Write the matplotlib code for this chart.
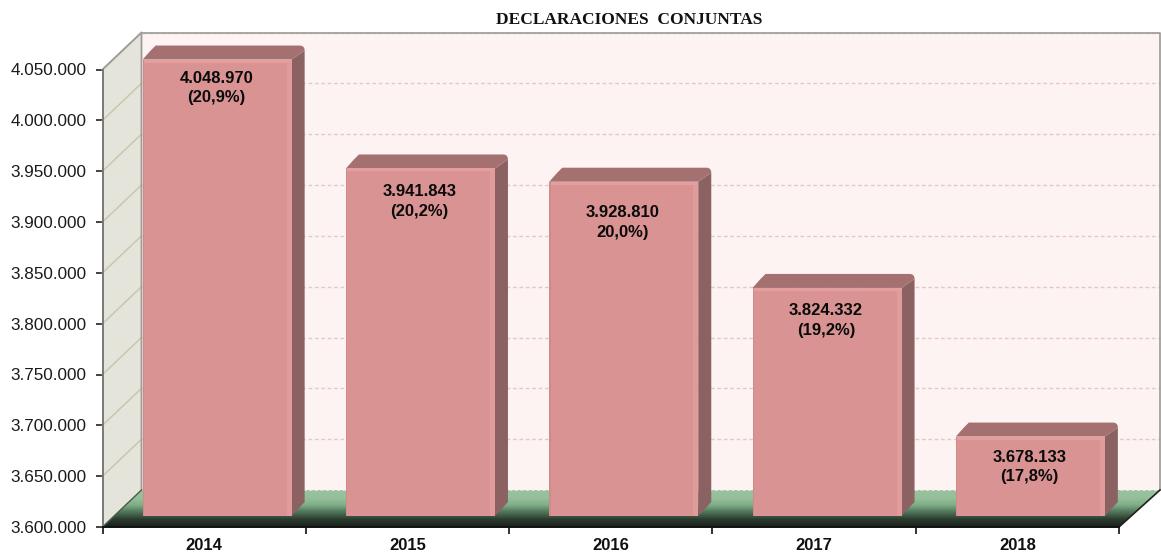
import numpy as np
import matplotlib
matplotlib.use('Agg')
import matplotlib.pyplot as plt
from matplotlib.patches import Polygon, PathPatch
from matplotlib.path import Path
from matplotlib.colors import LinearSegmentedColormap

years = ['2014', '2015', '2016', '2017', '2018']
values = [4048970, 3941843, 3928810, 3824332, 3678133]
labels = ['4.048.970\n(20,9%)', '3.941.843\n(20,2%)', '3.928.810\n20,0%)', '3.824.332\n(19,2%)', '3.678.133\n(17,8%)']
yticks = [3600000, 3650000, 3700000, 3750000, 3800000, 3850000, 3900000, 3950000, 4000000, 4050000]
yticklabels = ['3.600.000', '3.650.000', '3.700.000', '3.750.000', '3.800.000',
               '3.850.000', '3.900.000', '3.950.000', '4.000.000', '4.050.000']
title = 'DECLARACIONES  CONJUNTAS'

W, H = 1161, 554
fig = plt.figure(figsize=(W/100, H/100), dpi=100, facecolor='w')
# front plane of the 3d box, in pixels
left, right, bottom, top = 102.5, 1119, 527, 69.5
ax = fig.add_axes([left/W, 1-bottom/H, (right-left)/W, (bottom-top)/H])
ymin, ymax = 3600000, 4050000
ax.set_xlim(0, 5)
ax.set_ylim(ymin, ymax)
ax.patch.set_visible(False)
for s in ax.spines.values():
    s.set_visible(False)

px_x = 5/(right-left)  # data units per pixel
px_y = (ymax-ymin)/(bottom-top)
box_dx, box_dy = 39*px_x, 37*px_y  # depth of the whole box
box_dx_r = 41*px_x  # right end of the box sits a bit further out
bar_dx, bar_dy = 13*px_x, 14*px_y  # depth of a bar
off_x, off_y = 13*px_x, 11*px_y  # how far bars sit behind the front plane
bar_w = 149*px_x
label_drop = [11, 16, 23, 15, 13]  # text is not at the same spot in each bar (px)


def poly(pts, **kw):
    p = Polygon(pts, closed=True, clip_on=False, **kw)
    ax.add_patch(p)
    return p


# walls
poly([(box_dx, ymin+box_dy), (5+box_dx_r, ymin+box_dy), (5+box_dx_r, ymax+box_dy), (box_dx, ymax+box_dy)],
     fc='#fdf3f2', ec='none', zorder=1)
poly([(0, ymin), (box_dx, ymin+box_dy), (box_dx, ymax+box_dy), (0, ymax)], fc='#e4e4da', ec='none', zorder=1)

# floor gradient
floor_cmap = LinearSegmentedColormap.from_list('floor', ['#1a231d', '#2b3a2f', '#4f7358', '#7fae87', '#95c09b', '#97c29d'])
floor = poly([(0, ymin), (box_dx, ymin+box_dy), (5+box_dx_r, ymin+box_dy), (5, ymin)], fc='none', ec='none', zorder=2)
im = ax.imshow(np.linspace(1, 0, 64).reshape(-1, 1), cmap=floor_cmap, aspect='auto', zorder=2,
               extent=(0, 5+box_dx_r, ymin, ymin+box_dy))
im.set_clip_box(fig.bbox)
im.set_clip_path(floor)
ax.set_xlim(0, 5)
ax.set_ylim(ymin, ymax)

# gridlines on the walls
for v in yticks[1:]:
    ax.plot([box_dx, 5+box_dx_r], [v+box_dy, v+box_dy], color='#e2c8c8', lw=1, ls=(0, (2.6, 2)), zorder=2, clip_on=False)
    ax.plot([0, box_dx], [v, v+box_dy], color='#c8c8ac', lw=1.1, zorder=2, clip_on=False)

# outline of the walls
ax.plot([0, box_dx, box_dx], [ymax, ymax+box_dy, ymin+box_dy], color='#9c9c98', lw=1.3, zorder=2, clip_on=False)
ax.plot([box_dx, 5+box_dx_r, 5+box_dx_r], [ymax+box_dy, ymax+box_dy, ymin+box_dy], color='#a0a09c', lw=1.3, zorder=2, clip_on=False)
ax.plot([box_dx, 5+box_dx_r], [ymin+box_dy]*2, color='#d8e0d4', lw=0.8, ls=(0, (3, 2)), zorder=2, clip_on=False)
ax.plot([5, 5+box_dx_r], [ymin, ymin+box_dy], color='#202020', lw=1.2, zorder=3, clip_on=False)
ax.plot([0, box_dx], [ymin, ymin+box_dy], color='#4a5a4a', lw=1, zorder=3, clip_on=False)
ax.plot([0, 0], [ymin, ymax], color='#707070', lw=1.3, zorder=3, clip_on=False)
ax.plot([0, 5], [ymin, ymin], color='#111111', lw=1.4, zorder=6, clip_on=False)

# bars
x = np.arange(len(values))
for i, v in enumerate(values):
    x0 = x[i] + 0.5 + off_x - bar_w/2
    x1 = x0 + bar_w
    y0 = ymin + off_y
    y1 = v + off_y
    r = 5*px_x
    ry = 5*px_y
    # side
    poly([(x1, y0), (x1+bar_dx, y0+bar_dy), (x1+bar_dx, y1+bar_dy-ry), (x1, y1)], fc='#8b6161', ec='none', zorder=4)
    # top with rounded back corners
    verts = [(x0, y1), (x0+bar_dx-r, y1+bar_dy-ry), (x0+bar_dx, y1+bar_dy), (x1+bar_dx-r, y1+bar_dy),
             (x1+bar_dx, y1+bar_dy), (x1+bar_dx, y1+bar_dy-ry), (x1, y1), (x0, y1)]
    codes = [Path.MOVETO, Path.LINETO, Path.LINETO, Path.LINETO, Path.CURVE3, Path.CURVE3, Path.LINETO, Path.CLOSEPOLY]
    ax.add_patch(PathPatch(Path(verts, codes), fc='#a57070', ec='none', zorder=4, clip_on=False))
    # front
    ax.bar(x0, y1-y0, width=bar_w, bottom=y0, align='edge', color='#d99393', zorder=5, clip_on=False)
    # bevels
    ax.bar(x1-5*px_x, y1-y0, width=5*px_x, bottom=y0, align='edge', color='#e09b9b', zorder=5, clip_on=False)
    ax.bar(x0, 3*px_y, width=bar_w, bottom=y1-3*px_y, align='edge', color='#e49e9e', zorder=5, clip_on=False)
    ax.bar(x0, y1-y0, width=1.5*px_x, bottom=y0, align='edge', color='#cf8a8a', zorder=5, clip_on=False)
    ax.text(x[i]+0.5+off_x-1*px_x, y1-label_drop[i]*px_y, labels[i], ha='center', va='top', fontsize=12, fontweight='bold',
            family='Liberation Sans', color='#0a0a0a', linespacing=1.4, zorder=7, clip_on=False)

ax.set_xticks(np.arange(6))
ax.set_xticklabels([])
ax.set_xticks(x+0.5, minor=True)
ax.set_xticklabels(years, minor=True, fontsize=12, fontweight='bold', family='Liberation Sans', color='#111111')
ax.tick_params(axis='x', which='major', length=5, width=1.2, color='#111111', pad=2, direction='out')
ax.tick_params(axis='x', which='minor', length=0, pad=8)
ax.set_yticks(yticks)
ax.set_yticklabels(yticklabels, fontsize=12.3, family='Liberation Sans', color='#1a1a1a')
ax.tick_params(axis='y', length=5, width=1.2, color='#222222', pad=6.5)

fig.text(629.5/W, 1-20/H, title, ha='center', va='center', fontsize=12.5, fontweight='bold',
         family='Liberation Serif', color='#111111')

fig.savefig('out.png', dpi=100)
